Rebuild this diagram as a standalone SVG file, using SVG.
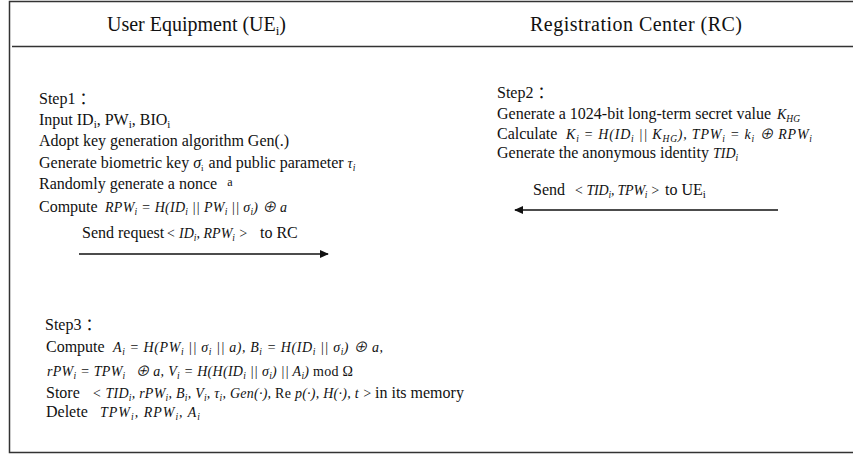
<svg xmlns="http://www.w3.org/2000/svg" width="853" height="456" viewBox="0 0 853 456">
<style>
  text { font-family: "Liberation Serif", "Noto Sans CJK SC", serif; fill: #111; }
  .hd { font-size: 20px; }
  .t { font-size: 16px; }
  .m { font-style: italic; font-size: 14px; }
  .up { font-style: normal; }
  .s { font-size: 9.5px; }
  .frame { stroke: #333; stroke-width: 1.5; fill: none; }
  .conn { stroke: #111; stroke-width: 1.5; fill: none; }
</style>
<defs>
  <marker id="ah" viewBox="0 0 10 10" refX="9" refY="5" markerWidth="9" markerHeight="8" orient="auto" markerUnits="userSpaceOnUse" preserveAspectRatio="none">
    <path d="M0,0 L10,5 L0,10 Z" fill="#111"/>
  </marker>
</defs>
<rect width="853" height="456" fill="#fff"/>
<g id="frame">
  <path class="frame" d="M853,1.5 H9.5 V452.5 H853"/>
  <path class="frame" d="M12,46.5 H853"/>
</g>
<g id="header">
  <text class="hd" x="107" y="31" textLength="179" lengthAdjust="spacing">User Equipment (UE<tspan font-size="13" dy="4">i</tspan><tspan dy="-4">)</tspan></text>
  <text class="hd" x="530" y="31" textLength="212" lengthAdjust="spacing">Registration Center (RC)</text>
</g>
<g id="step1">
  <text class="t" x="39" y="104">Step1 ：</text>
  <text class="t" x="39" y="125">Input ID<tspan font-size="11" dy="3">i</tspan><tspan dy="-3">, PW</tspan><tspan font-size="11" dy="3">i</tspan><tspan dy="-3">, BIO</tspan><tspan font-size="11" dy="3">i</tspan></text>
  <text class="t" x="39" y="146">Adopt key generation algorithm Gen(.)</text>
  <text class="t" x="39" y="168">Generate biometric key <tspan font-style="italic">σ</tspan><tspan font-size="9" dy="3">i</tspan><tspan dy="-3" dx="5">and public parameter </tspan><tspan class="m">τ</tspan><tspan class="m s" dy="3">i</tspan></text>
  <text class="t" x="39" y="189">Randomly generate a nonce <tspan font-size="12" dy="-3" dx="6">a</tspan></text>
  <text class="t" x="39" y="212">Compute</text>
  <text class="m" x="105" y="212" textLength="182" lengthAdjust="spacing">RPW<tspan class="s" dy="3">i</tspan><tspan dy="-3"> = H(ID</tspan><tspan class="s" dy="3">i</tspan><tspan dy="-3"> || PW</tspan><tspan class="s" dy="3">i</tspan><tspan dy="-3"> || σ</tspan><tspan class="s" dy="3">i</tspan><tspan dy="-3">) ⊕ a</tspan></text>
</g>
<g id="step2">
  <text class="t" x="497" y="98">Step2 ：</text>
  <text class="t" x="497" y="119">Generate a 1024-bit long-term secret value</text>
  <text class="m" x="777" y="119">K<tspan class="s" dy="3">HG</tspan></text>
  <text class="t" x="497" y="139">Calculate</text>
  <text class="m" x="566" y="139" textLength="246" lengthAdjust="spacing">K<tspan class="s" dy="3">i</tspan><tspan dy="-3"> = H(ID</tspan><tspan class="s" dy="3">i</tspan><tspan dy="-3"> || K</tspan><tspan class="s" dy="3">HG</tspan><tspan dy="-3">), TPW</tspan><tspan class="s" dy="3">i</tspan><tspan dy="-3"> = k</tspan><tspan class="s" dy="3">i</tspan><tspan dy="-3"> ⊕ RPW</tspan><tspan class="s" dy="3">i</tspan></text>
  <text class="t" x="497" y="158">Generate the anonymous identity <tspan class="m">TID</tspan><tspan class="m s" dy="3">i</tspan></text>
</g>
<g id="step3">
  <text class="t" x="45" y="330">Step3 ：</text>
  <text class="t" x="46" y="352">Compute</text>
  <text class="m" x="113" y="352" textLength="270" lengthAdjust="spacing">A<tspan class="s" dy="3">i</tspan><tspan dy="-3"> = H(PW</tspan><tspan class="s" dy="3">i</tspan><tspan dy="-3"> || σ</tspan><tspan class="s" dy="3">i</tspan><tspan dy="-3"> || a), B</tspan><tspan class="s" dy="3">i</tspan><tspan dy="-3"> = H(ID</tspan><tspan class="s" dy="3">i</tspan><tspan dy="-3"> || σ</tspan><tspan class="s" dy="3">i</tspan><tspan dy="-3">) ⊕ a,</tspan></text>
  <text class="m" x="47" y="376" textLength="306" lengthAdjust="spacing">rPW<tspan class="s" dy="3">i</tspan><tspan dy="-3"> = TPW</tspan><tspan class="s" dy="3">i</tspan><tspan dy="-3" dx="6"> ⊕ a, V</tspan><tspan class="s" dy="3">i</tspan><tspan dy="-3"> = H(H(ID</tspan><tspan class="s" dy="3">i</tspan><tspan dy="-3"> || σ</tspan><tspan class="s" dy="3">i</tspan><tspan dy="-3">) || A</tspan><tspan class="s" dy="3">i</tspan><tspan dy="-3">) </tspan><tspan class="up">mod Ω</tspan></text>
  <text class="t" x="46" y="398">Store</text>
  <text class="m" x="92" y="398" textLength="280" lengthAdjust="spacing">&lt; TID<tspan class="s" dy="3">i</tspan><tspan dy="-3">, rPW</tspan><tspan class="s" dy="3">i</tspan><tspan dy="-3">, B</tspan><tspan class="s" dy="3">i</tspan><tspan dy="-3">, V</tspan><tspan class="s" dy="3">i</tspan><tspan dy="-3">, τ</tspan><tspan class="s" dy="3">i</tspan><tspan dy="-3">, Gen(·), </tspan><tspan class="up">Re</tspan><tspan> p(·), H(·), t &gt;</tspan></text>
  <text class="t" x="375" y="398">in its memory</text>
  <text class="t" x="46" y="417">Delete</text>
  <text class="m" x="100" y="417" textLength="100" lengthAdjust="spacing">TPW<tspan class="s" dy="3">i</tspan><tspan dy="-3">, RPW</tspan><tspan class="s" dy="3">i</tspan><tspan dy="-3">, A</tspan><tspan class="s" dy="3">i</tspan></text>
</g>
<g id="connectors">
  <g id="msg1">
    <line class="conn" x1="79" y1="254" x2="328" y2="254" marker-end="url(#ah)"/>
    <text class="t" x="82" y="238">Send request</text>
    <text class="m" x="166" y="238" textLength="82" lengthAdjust="spacing">&lt; ID<tspan class="s" dy="3">i</tspan><tspan dy="-3">, RPW</tspan><tspan class="s" dy="3">i</tspan><tspan dy="-3"> &gt;</tspan></text>
    <text class="t" x="260" y="238">to RC</text>
  </g>
  <g id="msg2">
    <line class="conn" x1="778" y1="210" x2="515" y2="210" marker-end="url(#ah)"/>
    <text class="t" x="533" y="195">Send</text>
    <text class="m" x="574" y="195" textLength="86" lengthAdjust="spacing">&lt; TID<tspan class="s" dy="3">i</tspan><tspan dy="-3">, TPW</tspan><tspan class="s" dy="3">i</tspan><tspan dy="-3"> &gt;</tspan></text>
    <text class="t" x="665" y="195">to  UE<tspan font-size="11" dy="3">i</tspan></text>
  </g>
</g>
</svg>
